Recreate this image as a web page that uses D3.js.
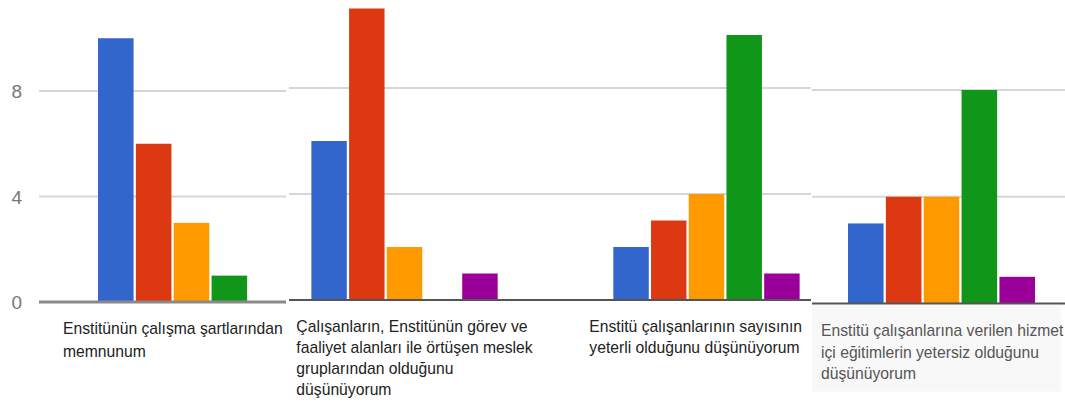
<!DOCTYPE html>
<html>
<head>
<meta charset="utf-8">
<script src="https://cdn.jsdelivr.net/npm/d3@7"></script>
<style>
  body { margin: 0; background: #fff; }
  text { font-family: Arial, "Liberation Sans", sans-serif; }
</style>
</head>
<body>
<div class="chart"></div>
<script>
var svgWidth = 1065;
var svgHeight = 403;

// question labels, one line per entry
var categories = [
    ["Enstitünün çalışma şartlarından", "memnunum"],
    ["Çalışanların, Enstitünün görev ve", "faaliyet alanları ile örtüşen meslek", "gruplarından olduğunu", "düşünüyorum"],
    ["Enstitü çalışanlarının sayısının", "yeterli olduğunu düşünüyorum"],
    ["Enstitü çalışanlarına verilen hizmet", "içi eğitimlerin yetersiz olduğunu", "düşünüyorum"]
];

// answer counts per series (5 answer options), one value per question
var blueValues   = [10, 6, 2, 3];
var redValues    = [6, 11, 3, 4];
var orangeValues = [3, 2, 4, 4];
var greenValues  = [1, 0, 10, 8];
var purpleValues = [0, 1, 1, 1];

var yTicks = [0, 4, 8];

var series = [blueValues, redValues, orangeValues, greenValues, purpleValues];
var colors = ["#3366cc", "#dc3912", "#ff9900", "#109618", "#990099"];

// the picture is three chart screenshots pasted side by side
var panels = [
    { cats: [0], gridX: [39, 286], band: [98, 285], pi: 0, po: 0, y0: 302, y8: 91, base: "#8a8a8a", baseW: 3, axis: true, labelY: 329, lineH: 23, textFill: "#222" },
    { cats: [1, 2], gridX: [289, 811], band: [254, 857], pi: 0.383, po: 0.19, y0: 300, y8: 88, base: "#555", baseW: 2, axis: false, labelY: 327, lineH: 21, textFill: "#222" },
    { cats: [3], gridX: [812, 1065], band: [848, 1035], pi: 0, po: 0, y0: 303.5, y8: 90, base: "#555", baseW: 2, axis: false, labelY: 331, lineH: 21.5, textFill: "#555", shade: true }
];

// label offsets from the start of each bar group
var labelDx = [-35, -15, -24, -27];

var svg = d3.select(".chart")
    .append("svg")
    .attr("width", svgWidth)
    .attr("height", svgHeight);

panels.forEach(function(p) {
    var chart = svg.append("g");

    if (p.shade) {
        chart.append("rect")
            .attr("x", p.gridX[0])
            .attr("y", p.y0 + 2)
            .attr("width", p.gridX[1] - p.gridX[0] - 4)
            .attr("height", 86)
            .attr("fill", "#f8f8f8");
    }

    var yLinearScale = d3.scaleLinear()
        .domain([0, 8])
        .range([p.y0, p.y8]);

    var xBand = d3.scaleBand()
        .domain(p.cats)
        .range(p.band)
        .paddingInner(p.pi)
        .paddingOuter(p.po);

    var xInner = d3.scaleBand()
        .domain(d3.range(series.length))
        .range([0, xBand.bandwidth()])
        .paddingInner(0.06);

    // gridlines
    chart.selectAll(".grid")
        .data(yTicks.filter(function(t) { return t > 0; }))
        .enter()
        .append("line")
        .attr("x1", p.gridX[0])
        .attr("x2", p.gridX[1])
        .attr("y1", function(d) { return yLinearScale(d); })
        .attr("y2", function(d) { return yLinearScale(d); })
        .attr("stroke", "#d6d6d6")
        .attr("stroke-width", 2);

    // bars
    var groups = chart.selectAll(".group")
        .data(p.cats)
        .enter()
        .append("g")
        .attr("transform", function(c) { return "translate(" + xBand(c) + ",0)"; });

    groups.selectAll("rect")
        .data(function(c) {
            return series.map(function(s, i) { return { i: i, v: s[c] }; });
        })
        .enter()
        .filter(function(d) { return d.v > 0; })
        .append("rect")
        .attr("x", function(d) { return xInner(d.i); })
        .attr("width", xInner.bandwidth())
        .attr("y", function(d) { return yLinearScale(d.v); })
        .attr("height", function(d) { return yLinearScale(0) - yLinearScale(d.v); })
        .style("fill", function(d) { return colors[d.i]; });

    // baseline
    chart.append("line")
        .attr("x1", p.gridX[0])
        .attr("x2", p.gridX[1])
        .attr("y1", yLinearScale(0))
        .attr("y2", yLinearScale(0))
        .attr("stroke", p.base)
        .attr("stroke-width", p.baseW);

    if (p.axis) {
        var leftAxis = d3.axisLeft(yLinearScale)
            .tickValues(yTicks)
            .tickSize(0)
            .tickPadding(0);
        var ax = chart.append("g")
            .attr("transform", "translate(22,0)")
            .call(leftAxis);
        ax.select(".domain").remove();
        ax.selectAll("text")
            .attr("fill", "#777")
            .style("font-size", "19px")
            .attr("dy", "0.36em");
    }

    // category labels
    groups.append("text")
        .attr("x", function(c) { return labelDx[c]; })
        .attr("y", p.labelY)
        .attr("fill", p.textFill)
        .style("font-size", "15.7px")
        .selectAll("tspan")
        .data(function(c) { return categories[c]; })
        .enter()
        .append("tspan")
        .attr("x", function() { return +d3.select(this.parentNode).attr("x"); })
        .attr("dy", function(d, i) { return i === 0 ? "0.35em" : p.lineH; })
        .text(function(d) { return d; });
});
</script>
</body>
</html>
